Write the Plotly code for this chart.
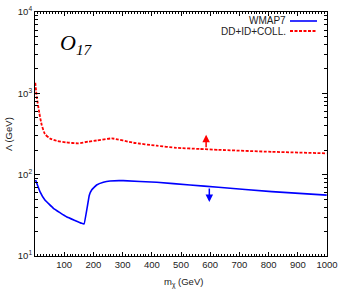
import plotly.graph_objects as go

# Data
wmap_m = [2, 17, 34, 63, 108, 160, 168, 186, 194, 211, 234, 257, 302, 417, 531, 628, 811, 999]
wmap_L = [86, 62, 48.8, 38.6, 30.4, 25.2, 24.8, 56, 64.9, 74.6, 80.6, 83.7, 84.4, 80.6, 74.6, 70, 61.8, 56]

dd_m = [1, 6, 15, 23, 34, 51, 74, 108, 148, 183, 211, 263, 337, 417, 485, 565, 628, 811, 999]
dd_L = [1350, 908, 568, 408, 316, 279, 261, 249, 243, 255, 263, 279, 247, 227, 214, 207, 202, 191, 183]

arrow_m = [586, 597]

xticks = [100, 200, 300, 400, 500, 600, 700, 800, 900, 1000]
yticks = [10, 100, 1000, 10000]
yticklabels = ["10<sup>1</sup>", "10<sup>2</sup>", "10<sup>3</sup>", "10<sup>4</sup>"]
yminor = [m * d for d in (10, 100, 1000) for m in range(2, 10)]

FONT = "Liberation Sans"
W, H = 346, 297
L, R, T, B = 35, 19, 12, 41
PW, PH = W - L - R, H - T - B


def px(x):
    return (x - L) / PW


def py(y):
    return 1 - (y - T) / PH


fig = go.Figure()
fig.add_trace(go.Scatter(x=wmap_m, y=wmap_L, mode="lines",
                         line=dict(color="#0000ff", width=1.6, shape="spline", smoothing=0.25), showlegend=False))
fig.add_trace(go.Scatter(x=dd_m, y=dd_L, mode="lines",
                         line=dict(color="#ff0000", width=1.8, dash="3px,1.5px", shape="spline", smoothing=0.5), showlegend=False))

axis_common = dict(showline=True, linecolor="black", linewidth=1, mirror="ticks", ticks="inside",
                   tickcolor="black", showgrid=False, zeroline=False, automargin=False,
                   tickfont=dict(family=FONT, size=9.5, color="#222"))

fig.update_xaxes(range=[0, 1000], tickvals=xticks, ticklen=4,
                 minor=dict(dtick=10, ticks="inside", ticklen=2, tickcolor="black", showgrid=False),
                 **axis_common)
fig.update_yaxes(type="log", range=[1, 4], tickvals=yticks, ticktext=yticklabels, ticklen=5,
                 minor=dict(tickmode="array", tickvals=yminor, ticks="inside", ticklen=3, tickcolor="black", showgrid=False),
                 **axis_common)

# Axis titles
fig.add_annotation(x=px(183), y=py(282), xref="paper", yref="paper", showarrow=False,
                   xanchor="center", yanchor="middle",
                   text="m<sub>χ</sub> (GeV)", font=dict(family=FONT, size=9.5, color="#222"))
fig.add_annotation(x=px(8), y=py(134), xref="paper", yref="paper", showarrow=False, textangle=-90,
                   xanchor="center", yanchor="middle",
                   text="Λ (GeV)", font=dict(family=FONT, size=9.5, color="#222"))

# Arrows
fig.add_annotation(x=arrow_m[0], y=2.49, ax=0, ay=14, xref="x", yref="y", showarrow=True,
                   arrowhead=2, arrowsize=1, arrowwidth=1.5, arrowcolor="#ff0000", text="")
fig.add_annotation(x=arrow_m[1], y=1.665, ax=0, ay=-15, xref="x", yref="y", showarrow=True,
                   arrowhead=2, arrowsize=1, arrowwidth=1.5, arrowcolor="#0000ff", text="")

# Title label
fig.add_annotation(x=px(58), y=py(44), xref="paper", yref="paper", showarrow=False, xanchor="left", yanchor="middle",
                   text="<i>O</i><sub><i>17</i></sub>", font=dict(family="Liberation Serif", size=22, color="black"))

# Manual legend (text right, sample line after)
fig.add_annotation(x=px(288), y=py(21), xref="paper", yref="paper", showarrow=False, xanchor="right", yanchor="middle",
                   text="WMAP7", font=dict(family=FONT, size=10, color="#222"))
fig.add_annotation(x=px(288), y=py(31), xref="paper", yref="paper", showarrow=False, xanchor="right", yanchor="middle",
                   text="DD+ID+COLL.", font=dict(family=FONT, size=10, color="#222"))
fig.add_shape(type="line", xref="paper", yref="paper", x0=px(290), x1=px(317), y0=py(21), y1=py(21),
              line=dict(color="#0000ff", width=1.6))
fig.add_shape(type="line", xref="paper", yref="paper", x0=px(290), x1=px(317), y0=py(31), y1=py(31),
              line=dict(color="#ff0000", width=1.8, dash="3px,1.5px"))

fig.update_layout(width=W, height=H, margin=dict(l=L, r=R, t=T, b=B, autoexpand=False),
                  plot_bgcolor="white", paper_bgcolor="white", showlegend=False)

fig.write_html("out.html", config={"displayModeBar": False},
               post_script="document.body.style.margin='0';document.body.style.overflow='hidden';")
